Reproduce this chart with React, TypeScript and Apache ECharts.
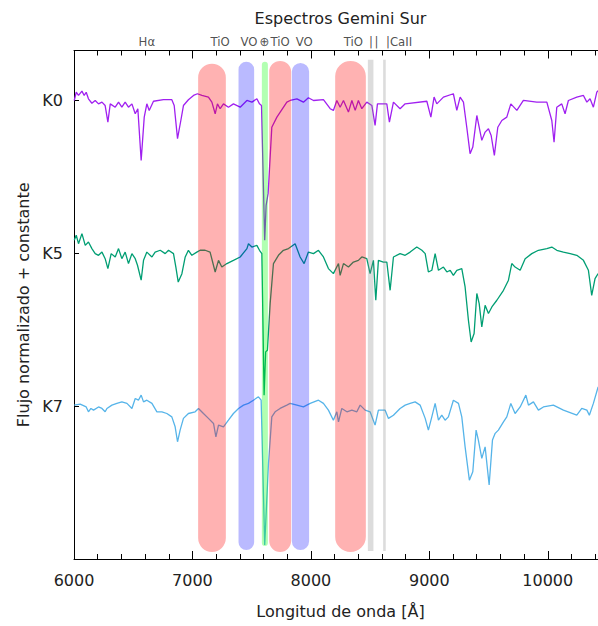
import React, { useEffect, useRef } from 'react';
import * as echarts from 'echarts';

// ---------- data ----------
const k0Wave = [6002,6019,6038,6067,6086,6103,6122,6151,6179,6207,6236,6263,6286,6306,6348,6376,6404,6432,6460,6489,6517,6539,6567,6593,6615,6635,6671,6755,6826,6846,6874,6902,6924,6966,7009,7042,7080,7135,7164,7192,7211,7234,7262,7304,7346,7403,7460,7502,7544,7566,7583,7610,7622,7639,7670,7713,7797,7825,7882,7937,7979,8022,8106,8163,8190,8219,8247,8275,8317,8346,8374,8401,8430,8472,8515,8542,8562,8641,8663,8697,8753,8796,8979,9013,9040,9063,9119,9203,9232,9260,9288,9316,9344,9367,9401,9443,9471,9499,9522,9549,9578,9612,9654,9688,9739,9794,9907,9992,10034,10053,10076,10118,10146,10174,10245,10301,10330,10357,10385,10414,10425];
const k0Flux = [2.000,2.054,2.033,2.061,2.033,2.054,2.011,1.982,2.000,1.978,1.989,1.967,1.858,1.978,1.956,1.989,1.956,1.989,1.956,1.978,1.913,1.946,1.608,1.891,1.978,1.935,1.995,2.005,2.005,1.967,1.750,1.869,1.967,2.005,2.033,2.044,2.033,2.022,1.989,1.913,1.978,1.946,1.978,1.956,1.978,1.956,2.000,1.989,2.011,1.978,1.967,1.085,1.314,1.392,1.825,1.891,1.989,2.000,2.011,1.989,2.018,2.000,2.005,1.946,1.935,2.000,1.956,2.000,1.924,2.000,1.935,2.000,1.946,1.989,1.967,1.837,1.978,1.978,1.858,1.989,1.946,1.978,1.995,1.891,2.022,1.978,2.022,2.044,1.935,2.022,1.989,1.825,1.652,1.695,1.902,1.739,1.793,1.815,1.771,1.641,1.825,1.869,1.891,1.978,1.935,2.000,1.989,1.989,1.869,1.727,1.956,1.978,1.913,2.000,2.022,2.033,1.989,2.011,1.956,2.054,2.065];

const k5Wave = [6002,6019,6038,6067,6095,6122,6151,6179,6207,6236,6263,6286,6314,6348,6376,6404,6432,6460,6489,6517,6536,6567,6587,6615,6658,6685,6728,6770,6798,6840,6860,6880,6911,6939,6966,6995,7037,7065,7107,7149,7192,7220,7248,7291,7346,7403,7460,7473,7502,7544,7566,7586,7605,7618,7633,7656,7684,7726,7768,7811,7867,7909,7943,7979,8022,8064,8106,8148,8190,8233,8247,8275,8317,8359,8401,8430,8472,8500,8528,8548,8570,8612,8641,8669,8697,8753,8796,8838,8894,8937,8965,8992,9021,9049,9077,9119,9148,9176,9203,9232,9274,9302,9330,9353,9378,9401,9421,9443,9471,9499,9528,9570,9626,9668,9696,9724,9767,9809,9865,9921,9992,10034,10076,10132,10189,10245,10301,10343,10371,10399,10425];
const k5Flux = [1.085,1.118,1.063,1.129,1.052,1.074,1.031,0.998,0.987,1.008,0.965,0.900,0.998,0.976,1.031,0.965,1.008,0.933,0.998,0.965,0.922,0.824,0.954,1.008,0.976,1.008,1.020,0.998,1.020,0.998,0.910,0.812,0.867,0.976,1.020,0.987,1.008,1.020,1.020,1.008,0.878,0.954,0.910,0.933,0.954,0.976,1.031,1.063,1.041,1.052,1.020,0.998,0.072,0.355,0.366,0.671,0.933,0.987,1.020,1.031,1.063,0.976,0.933,1.008,0.998,1.020,0.976,0.900,0.867,0.933,0.856,0.933,0.910,0.943,0.954,0.976,0.965,0.867,0.954,0.693,0.954,0.943,0.943,0.758,0.976,0.998,0.987,1.008,1.041,1.020,0.998,0.878,0.889,0.998,0.889,0.910,0.878,0.889,0.856,0.889,0.900,0.780,0.562,0.420,0.475,0.737,0.671,0.518,0.660,0.606,0.649,0.693,0.758,0.824,0.933,0.910,0.889,0.965,0.998,1.020,1.031,1.041,1.020,1.008,0.998,0.987,0.954,0.889,0.725,0.835,0.867];

const k7Wave = [6002,6052,6103,6122,6143,6165,6207,6236,6263,6278,6320,6362,6404,6447,6489,6517,6544,6567,6587,6615,6658,6700,6742,6784,6826,6854,6874,6896,6924,6966,7023,7051,7093,7135,7178,7198,7220,7262,7304,7346,7389,7431,7473,7515,7557,7580,7610,7642,7670,7698,7740,7797,7825,7882,7937,7994,8064,8106,8148,8190,8219,8233,8261,8304,8346,8388,8416,8458,8500,8542,8570,8627,8655,8697,8753,8796,8838,8880,8922,8965,8992,9021,9049,9077,9105,9133,9161,9203,9246,9274,9302,9338,9367,9395,9414,9443,9471,9505,9533,9556,9583,9626,9654,9688,9724,9767,9815,9837,9879,9921,9963,10047,10132,10245,10287,10330,10351,10385,10425];
const k7Flux = [0.007,0.013,-0.005,-0.037,-0.015,-0.026,-0.005,-0.015,-0.037,-0.015,0.007,0.018,0.028,0.018,-0.015,0.050,0.039,0.072,0.028,0.039,0.018,-0.037,-0.037,-0.048,-0.070,-0.135,-0.233,-0.157,-0.080,-0.048,-0.037,-0.015,-0.048,-0.080,-0.113,-0.201,-0.124,-0.135,-0.092,-0.048,-0.015,0.007,0.018,0.039,0.061,0.039,-0.908,-0.375,-0.070,-0.037,-0.015,0.007,0.018,0.007,-0.005,0.018,0.039,0.018,-0.026,-0.092,-0.037,-0.103,-0.015,-0.037,-0.026,-0.037,0.007,-0.026,-0.037,-0.124,-0.026,-0.026,-0.080,-0.059,-0.015,0.007,0.018,0.028,0.007,-0.080,-0.157,-0.070,0.018,-0.092,-0.059,-0.092,-0.070,0.039,0.018,-0.070,-0.266,-0.484,-0.429,-0.157,-0.222,-0.342,-0.266,-0.516,-0.222,-0.178,-0.157,-0.103,-0.070,0.018,-0.048,-0.005,0.072,0.007,0.028,-0.026,-0.005,0.007,-0.026,-0.059,-0.015,-0.026,-0.059,0.018,0.126];

const spectraNames = ['K0', 'K5', 'K7'];
const spectraOffsets = [2, 1, 0];

// bands: [start Å, end Å, bottom, top, kind]  kind 0 TiO, 1 VO, 2 telluric, 3 CaII
const bandStart = [7048, 7389, 7586, 7648, 7839, 8205, 8481, 8610];
const bandEnd = [7282, 7521, 7637, 7833, 7985, 8464, 8528, 8632];
const bandBottom = [-0.954, -0.941, -0.915, -0.954, -0.941, -0.954, -0.948, -0.948];
const bandTop = [2.240, 2.253, 2.253, 2.259, 2.246, 2.259, 2.266, 2.266];
const bandKind = [0, 1, 2, 0, 1, 0, 3, 3];

const topLabelText = ['Hα', 'TiO', 'VO', '⊕', 'TiO', 'VO', 'TiO', '|', '|', '|CaII'];
const topLabelWave = [6615, 7234, 7478, 7608, 7740, 7943, 8359, 8508, 8553, 8744];

const xTicks = [6000, 7000, 8000, 9000, 10000];

// ---------- styles ----------
const lineColors = ['#a020f0', '#009e73', '#56b4e9'];
const bandColors = ['rgba(255,0,0,0.3)', 'rgba(0,0,255,0.27)', 'rgba(0,255,0,0.3)', 'rgba(128,128,128,0.28)'];
const bandRound = [true, true, true, false];
const FONT = 'DejaVu Sans';

const X_MIN = 6000;
const X_MAX = 10500;
const Y_MIN = -1;
const Y_MAX = 2.327;

export default function App() {
  const ref = useRef<HTMLDivElement>(null);
  useEffect(() => {
    if (!ref.current) return;
    const chart = echarts.init(ref.current, undefined, { renderer: 'svg' });
    const waves = [k0Wave, k5Wave, k7Wave];
    const fluxes = [k0Flux, k5Flux, k7Flux];
    const lineSeries = waves.map((w, i) => ({
      type: 'line',
      name: spectraNames[i],
      data: w.map((x, j) => [x, fluxes[i][j]]),
      showSymbol: false,
      symbol: 'none',
      lineStyle: { color: lineColors[i], width: 1.3 },
      z: 2,
      silent: true,
    }));
    const bandData = bandStart.map((s, i) => [s, bandEnd[i], bandBottom[i], bandTop[i], bandKind[i]]);
    const axisCommon = {
      type: 'value',
      min: X_MIN,
      max: X_MAX,
      interval: 1000,
      splitLine: { show: false },
      axisLine: { show: true, onZero: false, lineStyle: { color: '#000', width: 1 } },
      axisTick: { show: true, inside: true, length: 8, lineStyle: { color: '#000' } },
      minorTick: { show: true, splitNumber: 5, length: 5, lineStyle: { color: '#000' } },
      minorSplitLine: { show: false },
    };
    chart.setOption({
      animation: false,
      backgroundColor: '#fff',
      textStyle: { fontFamily: FONT },
      grid: { left: 74, right: 13, top: 50.5, bottom: 67, containLabel: false },
      xAxis: [
        {
          ...axisCommon,
          position: 'bottom',
          name: 'Longitud de onda [Å]',
          nameLocation: 'middle',
          nameGap: 44,
          nameTextStyle: { fontFamily: FONT, fontSize: 16, color: '#222' },
          axisLabel: {
            show: true,
            margin: 13,
            fontFamily: FONT,
            fontSize: 16,
            color: '#222',
            showMaxLabel: false,
            formatter: (v: number) => (xTicks.indexOf(v) >= 0 ? String(v) : ''),
          },
        },
        {
          ...axisCommon,
          position: 'top',
          name: 'Espectros Gemini Sur',
          nameLocation: 'middle',
          nameGap: 24,
          nameTextStyle: { fontFamily: FONT, fontSize: 16, color: '#222' },
          axisLabel: { show: false },
        },
      ],
      yAxis: {
        type: 'value',
        min: Y_MIN,
        max: Y_MAX,
        interval: 1,
        name: 'Flujo normalizado + constante',
        nameLocation: 'middle',
        nameGap: 42,
        nameTextStyle: { fontFamily: FONT, fontSize: 16, color: '#222' },
        splitLine: { show: false },
        axisLine: { show: true, onZero: false, lineStyle: { color: '#000', width: 1 } },
        axisTick: { show: true, inside: true, length: 5, lineStyle: { color: '#000' } },
        axisLabel: {
          margin: 11,
          fontFamily: FONT,
          fontSize: 16,
          color: '#222',
          showMaxLabel: false,
          formatter: (v: number) => {
            const idx = spectraOffsets.indexOf(v);
            return idx >= 0 ? spectraNames[idx] : '';
          },
        },
      },
      series: [
        ...lineSeries,
        {
          type: 'custom',
          silent: true,
          z: 3,
          clip: false,
          encode: { x: [0, 1], y: [2, 3] },
          data: bandData,
          renderItem: (params: any, api: any) => {
            const x0 = api.value(0);
            const x1 = api.value(1);
            const yb = api.value(2);
            const yt = api.value(3);
            const k = api.value(4);
            const p0 = api.coord([x0, yt]);
            const p1 = api.coord([x1, yb]);
            const w = p1[0] - p0[0];
            const h = p1[1] - p0[1];
            return {
              type: 'rect',
              shape: { x: p0[0], y: p0[1], width: w, height: h, r: bandRound[k] ? w / 2 : 0 },
              style: { fill: bandColors[k] },
            };
          },
        },
        {
          type: 'scatter',
          silent: true,
          symbolSize: 0,
          clip: false,
          z: 4,
          data: topLabelWave.map((w) => [w, Y_MAX]),
          label: {
            show: true,
            position: 'top',
            distance: 3,
            fontFamily: "'DejaVu Sans Condensed', 'Liberation Sans Narrow', 'DejaVu Sans'",
            fontSize: 13,
            color: '#222',
            formatter: (p: any) => topLabelText[p.dataIndex],
          },
        },
      ],
    });
    return () => chart.dispose();
  }, []);
  return (
    <div style={{ position: 'fixed', left: 0, top: 0, width: 598, height: 626, overflow: 'hidden', background: '#fff' }}>
      <div ref={ref} style={{ width: 620, height: 626 }} />
    </div>
  );
}
